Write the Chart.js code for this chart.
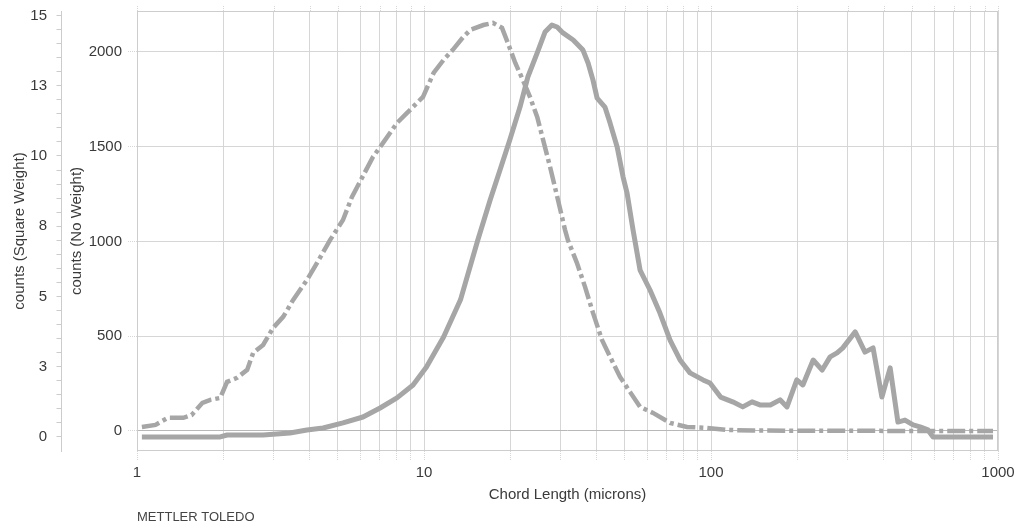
<!DOCTYPE html>
<html>
<head>
<meta charset="utf-8">
<script src="https://cdn.jsdelivr.net/npm/chart.js@4.4.1/dist/chart.umd.min.js"></script>
<style>
  html, body { margin: 0; padding: 0; background: #fff; }
  #wrap { width: 1019px; height: 531px; }
</style>
</head>
<body>
<div id="wrap"><canvas id="chart"></canvas></div>
<script>
// No Weight distribution (dash-dot line), chord length in microns
const nwChord = [1.04, 1.16, 1.28, 1.45, 1.55, 1.69, 1.80, 1.95, 2.06, 2.23,
  2.42, 2.54, 2.75, 2.98, 3.23, 3.50, 3.91, 4.24, 4.71, 5.22,
  5.61, 6.64, 7.20, 8.05, 8.73, 9.92, 10.8, 11.7, 12.6, 13.7,
  14.5, 16.1, 17.4, 18.7, 19.6, 20.8, 22.1, 23.4, 24.8, 26.0,
  27.5, 29.3, 31.0, 31.7, 34.1, 36.4, 38.8, 41.7, 44.5, 48.2,
  52.2, 56.6, 62.8, 72.0, 82.5, 96.8, 114, 140, 204, 456, 961];
const nwCounts = [21, 32, 69, 69, 84, 148, 164, 174, 259, 280,
  322, 412, 454, 544, 602, 691, 797, 887, 1008, 1113,
  1235, 1446, 1520, 1625, 1678, 1763, 1889, 1958, 2011, 2079,
  2116, 2142, 2153, 2127, 2047, 1942, 1852, 1763, 1657, 1536,
  1393, 1219, 1061, 1008, 887, 760, 623, 480, 391, 285,
  206, 127, 95, 42, 21, 16, 5, 2, 1, 0, 0];

// Square Weight distribution (solid line)
const sqChord = [1.04, 1.95, 2.06, 2.75, 3.41, 3.91, 4.45, 5.22, 6.13, 7.03,
  8.05, 9.16, 10.2, 11.7, 13.4, 15.4, 17.0, 18.4, 19.9, 21.6,
  23.0, 24.8, 26.4, 27.9, 29.1, 30.5, 33.1, 35.8, 37.3, 38.8,
  40.1, 42.7, 44.5, 47.1, 49.4, 51.0, 53.5, 56.6, 61.3, 66.4,
  72.0, 78.0, 84.5, 93.8, 99.2, 108, 119, 129, 139, 148,
  161, 174, 184, 199, 209, 227, 244, 260, 275, 288,
  318, 344, 367, 394, 421, 448, 474, 506, 535, 570, 594, 961];
const sqCounts = [0, 0, 0.07, 0.07, 0.14, 0.25, 0.32, 0.5, 0.71, 1.03,
  1.39, 1.85, 2.49, 3.56, 4.88, 7.01, 8.43, 9.5, 10.57, 11.74,
  12.81, 13.67, 14.41, 14.66, 14.59, 14.38, 14.13, 13.77, 13.31, 12.7,
  12.06, 11.74, 11.17, 10.32, 9.25, 8.68, 7.37, 5.94, 5.23, 4.41,
  3.45, 2.74, 2.28, 2.03, 1.92, 1.42, 1.25, 1.07, 1.25, 1.14,
  1.14, 1.32, 1.07, 2.03, 1.85, 2.74, 2.38, 2.85, 2.99, 3.17,
  3.74, 3.02, 3.17, 1.42, 2.46, 0.53, 0.6, 0.43, 0.36, 0.25, 0, 0];

// axis ticks
const xDecades = [1, 10, 100];
const xLabelled = [1, 10, 100, 1000];
const nwTicks = [0, 500, 1000, 1500, 2000];
const sqTicks = [0, 2.5, 5, 7.5, 10, 12.5, 15];
const sqTickLabels = ['0', '3', '5', '8', '10', '13', '15'];

const lineGrey = '#a6a6a6';
const gridGrey = '#d6d6d6';
const textColor = '#3a3a3a';

Chart.defaults.font.family = "'Liberation Sans', Arial, sans-serif";
Chart.defaults.font.size = 15;
Chart.defaults.color = textColor;

// every 1..9 step of each decade, plus 1000
const xGrid = [];
xDecades.forEach(d => { for (let m = 1; m <= 9; m++) xGrid.push(d * m); });
xGrid.push(1000);

const sqMinor = [];
for (let v = 0; v <= 15; v += 0.5) sqMinor.push(v);

// fixed axis widths, no extra label padding above/below the plot
const fixWidth = w => s => { s.width = w; s.paddingTop = 0; s.paddingBottom = 0; };

// plot frame + small stubs of the vertical grid above it
const framePlugin = {
  id: 'frame',
  beforeDatasetsDraw(chart) {
    const { ctx, chartArea: a, scales } = chart;
    ctx.save();
    ctx.strokeStyle = gridGrey;
    ctx.lineWidth = 1;
    ctx.setLineDash([1, 1]);
    scales.x.ticks.forEach(t => {
      const px = Math.round(scales.x.getPixelForValue(t.value)) + 0.5;
      ctx.beginPath();
      ctx.moveTo(px, a.top - 5);
      ctx.lineTo(px, a.top);
      ctx.stroke();
    });
    ctx.setLineDash([]);
    ctx.strokeStyle = '#cdcdcd';
    ctx.strokeRect(Math.round(a.left) + 0.5, Math.round(a.top) + 0.5,
      Math.round(a.right - a.left) - 1, Math.round(a.bottom - a.top) - 1);
    ctx.restore();
  }
};

new Chart(document.getElementById('chart'), {
  type: 'line',
  data: {
    datasets: [{
      label: 'Square Weight',
      data: sqChord.map((c, i) => ({ x: c, y: sqCounts[i] })),
      yAxisID: 'ySq',
      borderColor: lineGrey,
      borderWidth: 5,
      borderJoinStyle: 'round',
      pointRadius: 0,
      tension: 0
    }, {
      label: 'No Weight',
      data: nwChord.map((c, i) => ({ x: c, y: nwCounts[i] })),
      yAxisID: 'yNw',
      borderColor: lineGrey,
      borderWidth: 4.5,
      borderDash: [18, 4, 4, 4],
      borderCapStyle: 'butt',
      pointRadius: 0,
      tension: 0
    }]
  },
  options: {
    responsive: true,
    maintainAspectRatio: false,
    animation: false,
    layout: { padding: { left: 9, top: 11, right: 21, bottom: 0 } },
    plugins: {
      legend: { display: false },
      tooltip: { enabled: false },
      title: {
        display: true,
        text: 'METTLER TOLEDO',
        position: 'bottom',
        align: 'start',
        fullSize: false,
        color: '#444',
        font: { size: 13, weight: 'normal' },
        padding: { top: 4, bottom: 5.4 }
      }
    },
    scales: {
      x: {
        type: 'logarithmic',
        min: 1,
        max: 1000,
        afterBuildTicks: s => { s.ticks = xGrid.map(v => ({ value: v })); },
        ticks: {
          autoSkip: false,
          maxRotation: 0,
          padding: 4,
          callback: v => xLabelled.includes(v) ? String(v) : ''
        },
        grid: {
          color: gridGrey,
          borderDash: [1, 1],
          tickLength: 9,
          tickColor: gridGrey,
          tickBorderDash: [1, 1]
        },
        border: { display: false },
        title: {
          display: true,
          text: 'Chord Length (microns)',
          padding: { top: 0, bottom: 2 }
        }
      },
      yNw: {
        position: 'left',
        weight: 0,
        min: -106,
        max: 2216,
        afterBuildTicks: s => { s.ticks = nwTicks.map(v => ({ value: v })); },
        afterFit: fixWidth(75.5),
        ticks: { padding: 6, callback: v => String(v) },
        grid: {
          color: c => (c.tick && c.tick.value === 0) ? '#b8b8b8' : gridGrey,
          borderDash: c => (c.tick && c.tick.value === 0) ? [] : [1, 1],
          tickLength: 9,
          tickColor: gridGrey,
          tickBorderDash: [1, 1]
        },
        border: { display: false },
        title: {
          display: true,
          text: 'counts (No Weight)',
          padding: { top: 6, bottom: 0 }
        }
      },
      ySq: {
        position: 'left',
        weight: 1,
        min: -0.5,
        max: 15.16,
        afterBuildTicks: s => { s.ticks = sqMinor.map(v => ({ value: v })); },
        afterFit: fixWidth(52.5),
        ticks: {
          autoSkip: false,
          padding: 9.5,
          callback: v => {
            const i = sqTicks.indexOf(v);
            return i >= 0 ? sqTickLabels[i] : '';
          }
        },
        grid: { drawOnChartArea: false, tickLength: 5, tickColor: '#cccccc' },
        border: { display: true, color: '#cccccc' },
        title: {
          display: true,
          text: 'counts (Square Weight)',
          padding: { top: 2, bottom: 0 }
        }
      }
    }
  },
  plugins: [framePlugin]
});
</script>
</body>
</html>
